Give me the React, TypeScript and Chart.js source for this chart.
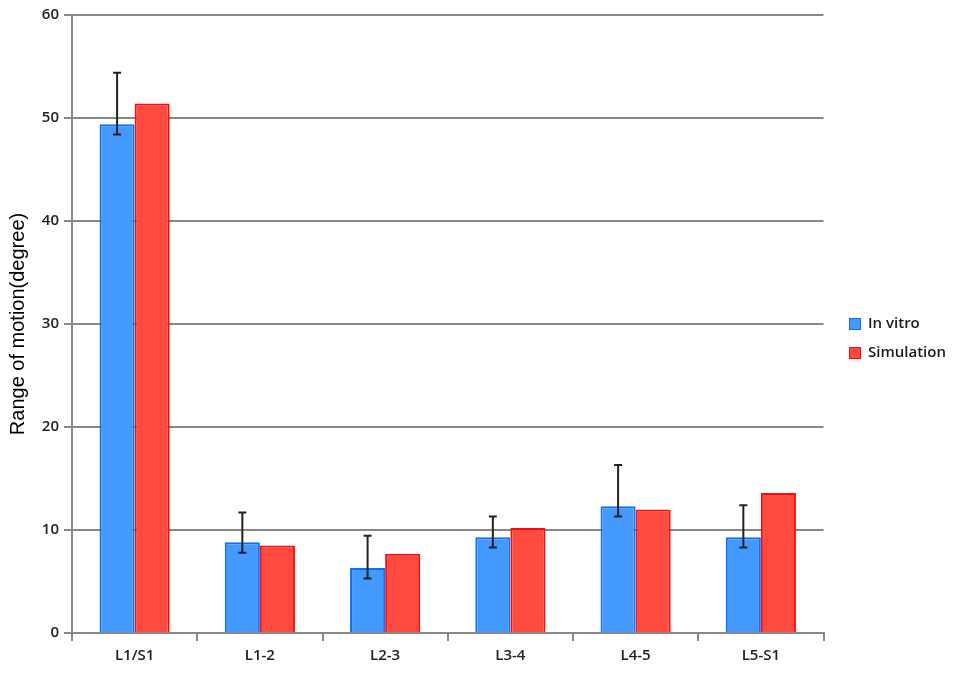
import React, { useEffect, useRef } from "react";
import { Chart, registerables } from "chart.js";

Chart.register(...registerables);

const categories = ["L1/S1", "L1-2", "L2-3", "L3-4", "L4-5", "L5-S1"];
const inVitro = [49.4, 8.8, 6.3, 9.3, 12.3, 9.3];
const simulation = [51.4, 8.5, 7.7, 10.2, 12.0, 13.6];
const inVitroLow = [48.4, 7.8, 5.3, 8.3, 11.3, 8.3];
const inVitroHigh = [54.4, 11.7, 9.45, 11.3, 16.3, 12.4];
const yTicks = [0, 10, 20, 30, 40, 50, 60];

const FONT = "'Open Sans', 'DejaVu Sans', sans-serif";

const errorBarPlugin = {
  id: "errorBars",
  afterDatasetsDraw(chart: any) {
    const meta = chart.getDatasetMeta(0);
    const y = chart.scales.y;
    const ctx = chart.ctx;
    ctx.save();
    ctx.strokeStyle = "#222";
    ctx.lineWidth = 2;
    meta.data.forEach((bar: any, i: number) => {
      const x = bar.x;
      const yl = y.getPixelForValue(inVitroLow[i]);
      const yh = y.getPixelForValue(inVitroHigh[i]);
      ctx.beginPath();
      ctx.moveTo(x, yl);
      ctx.lineTo(x, yh);
      ctx.moveTo(x - 4, yl);
      ctx.lineTo(x + 4, yl);
      ctx.moveTo(x - 4, yh);
      ctx.lineTo(x + 4, yh);
      ctx.stroke();
    });
    ctx.restore();
  },
};

const legendPlugin = {
  id: "customLegend",
  afterDraw(chart: any) {
    const ctx = chart.ctx;
    ctx.save();
    const x0 = 849;
    const yc0 = 324;
    chart.data.datasets.forEach((ds: any, i: number) => {
      const yc = yc0 + i * 29;
      ctx.fillStyle = ds.backgroundColor;
      ctx.fillRect(x0, yc - 6, 12, 12);
      ctx.strokeStyle = ds.borderColor;
      ctx.lineWidth = 1;
      ctx.strokeRect(x0 + 0.5, yc - 5.5, 11, 11);
      ctx.fillStyle = "#1a1a1a";
      ctx.font = `600 15px ${FONT}`;
      ctx.textBaseline = "middle";
      ctx.textAlign = "left";
      ctx.fillText(ds.label, x0 + 19, yc);
    });
    ctx.restore();
  },
};

export default function App() {
  const ref = useRef<HTMLCanvasElement>(null);
  useEffect(() => {
    if (!ref.current) return;
    const chart = new Chart(ref.current, {
      type: "bar",
      data: {
        labels: categories,
        datasets: [
          {
            label: "In vitro",
            data: inVitro,
            backgroundColor: "#4499ff",
            borderColor: "#0a70ff",
            borderWidth: 2,
            categoryPercentage: 0.56,
            barPercentage: 1,
          },
          {
            label: "Simulation",
            data: simulation,
            backgroundColor: "#ff4a40",
            borderColor: "#ff0a0a",
            borderWidth: 2,
            categoryPercentage: 0.56,
            barPercentage: 1,
          },
        ],
      },
      options: {
        responsive: false,
        animation: false,
        layout: { padding: { top: 15, right: 133.5, bottom: 0, left: 0 } },
        plugins: {
          legend: { display: false },
          tooltip: { enabled: false },
        },
        scales: {
          x: {
            grid: {
              drawOnChartArea: false,
              drawTicks: true,
              tickLength: 8,
              color: "#888",
              lineWidth: 2,
              offset: true,
            },
            border: { display: true, color: "#888", width: 2 },
            ticks: {
              color: "#222",
              font: { family: FONT, size: 15, weight: "600" },
              padding: 6,
            },
            afterFit(scale: any) {
              scale.height = 42;
            },
          },
          y: {
            min: 0,
            max: 60,
            afterBuildTicks(scale: any) {
              scale.ticks = yTicks.map((v) => ({ value: v }));
            },
            grid: {
              color: "#888",
              lineWidth: 2,
              tickLength: 8,
            },
            border: { display: true, color: "#888", width: 2 },
            ticks: {
              color: "#222",
              font: { family: FONT, size: 15, weight: "600" },
              padding: 5,
            },
            title: {
              display: true,
              text: "Range of motion(degree)",
              color: "#000",
              font: { family: "'Liberation Sans', Arial, sans-serif", size: 20 },
              padding: { top: 6, bottom: 0 },
            },
            afterFit(scale: any) {
              scale.width = 72;
            },
          },
        },
      },
      plugins: [errorBarPlugin, legendPlugin],
    });
    return () => chart.destroy();
  }, []);
  return (
    <div style={{ position: "fixed", left: 0, top: 0, width: 957, height: 675, background: "#fff" }}>
      <canvas ref={ref} width={957} height={675} />
    </div>
  );
}
